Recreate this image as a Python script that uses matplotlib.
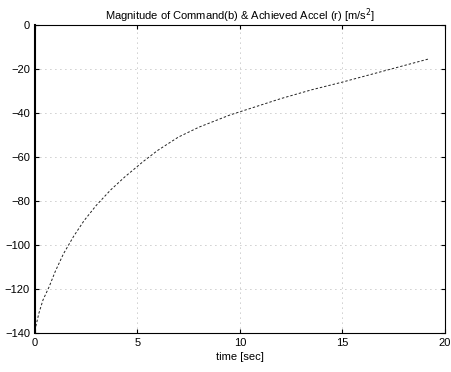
import matplotlib
matplotlib.use('Agg')
import matplotlib.pyplot as plt

# values
time_s = [0.05, 0.2, 0.4, 0.7, 1.0, 1.4, 1.9, 2.4, 3.0, 3.7, 4.4, 5.3,
          6.0, 7.0, 8.0, 9.5, 10.5, 12.0, 13.5, 15.0, 16.0, 17.0, 18.0, 19.2]
accel = [-137, -131, -125, -119, -112, -104, -96, -89, -82, -75, -69, -62,
         -57, -51, -46.5, -41, -38, -33.5, -29.5, -26, -23.5, -21, -18.5, -15.5]

x_ticks = [0, 5, 10, 15, 20]
y_ticks = [0, -20, -40, -60, -80, -100, -120, -140]

plt.rcParams['font.family'] = ['Liberation Sans', 'DejaVu Sans']

fig = plt.figure(figsize=(4.52, 3.72), dpi=100)
ax = fig.add_axes([0.077, 0.105, 0.907, 0.828])

ax.plot(time_s, accel, color='#222222', linewidth=0.7, linestyle=(0, (2.5, 2)))

ax.set_xlim(0, 20)
ax.set_ylim(-140, 0)
ax.set_xticks(x_ticks)
ax.set_yticks(y_ticks)
ax.tick_params(direction='in', top=True, right=True, labelsize=8, length=3)
ax.grid(color='#999999', linestyle=(0, (1, 5)), linewidth=0.6)

ax.set_title('Magnitude of Command(b) & Achieved Accel (r) [m/s$^2$]', fontsize=8, pad=4)
ax.set_xlabel('time [sec]', fontsize=8, labelpad=3)

for s in ax.spines.values():
    s.set_linewidth(0.8)
ax.spines['left'].set_linewidth(1.5)

fig.savefig('out.png', dpi=100)
